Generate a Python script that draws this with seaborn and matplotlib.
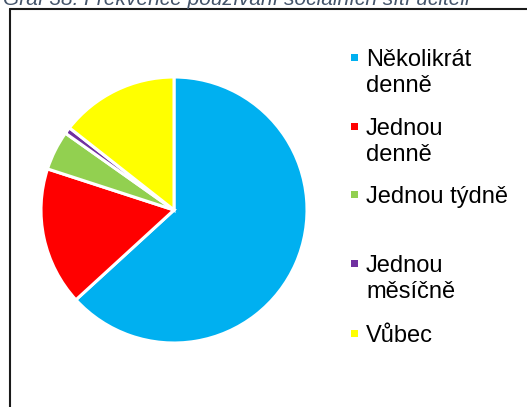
"""Koláčový graf: frekvence používání sociálních sítí učiteli."""

import matplotlib
matplotlib.use("Agg")
import matplotlib.pyplot as plt
from matplotlib.lines import Line2D
from matplotlib.patches import Rectangle
import seaborn as sns

# data (počty respondentů)
categories = ["Několikrát denně", "Jednou denně", "Jednou týdně", "Jednou měsíčně", "Vůbec"]
legend_labels = ["Několikrát\ndenně", "Jednou\ndenně", "Jednou týdně", "Jednou\nměsíčně", "Vůbec"]
counts = [79, 21, 6, 1, 18]
colors = ["#00B0F0", "#FF0000", "#92D050", "#7030A0", "#FFFF00"]
title = "Graf 38: Frekvence používání sociálních sítí učiteli"

sns.set_theme(style="white")
plt.rcParams["font.family"] = ["Liberation Sans", "DejaVu Sans"]

W, H = 527, 407
fig = plt.figure(figsize=(W / 100, H / 100), dpi=100)

# koláč: střed ~ (173, 210) px, poloměr ~ 133 px
cx, cy, r = 174, 210, 133
ax = fig.add_axes([(cx - r) / W, (H - cy - r) / H, 2 * r / W, 2 * r / H])
ax.pie(
    counts,
    colors=colors,
    startangle=90,
    counterclock=False,
    wedgeprops={"edgecolor": "white", "linewidth": 2.2},
)
ax.set_xlim(-1.0, 1.0)
ax.set_ylim(-1.0, 1.0)
ax.axis("off")

# rámeček oblasti grafu (levá a horní hrana)
fig.add_artist(Line2D([9.5 / W, 9.5 / W], [0, (H - 8.5) / H], color="#1a1a1a", linewidth=1.5))
fig.add_artist(Line2D([9.5 / W, 1], [(H - 8.5) / H, (H - 8.5) / H], color="#1a1a1a", linewidth=1.5))

# titulek (horní část je v originále oříznutá)
fig.text(3 / W, (H - 5) / H, title, fontsize=15, style="italic",
         color="#44546A", ha="left", va="baseline")

# legenda
slot_tops = [50, 119, 187, 256, 326]
for label, color, top in zip(legend_labels, colors, slot_tops):
    fig.add_artist(Rectangle((351 / W, (H - top - 11) / H), 7 / W, 7 / H,
                             facecolor=color, edgecolor="none"))
    fig.text(366 / W, (H - top + 1) / H, label, fontsize=17, color="black",
             ha="left", va="top", linespacing=1.22)

fig.savefig("out.png", dpi=100)
